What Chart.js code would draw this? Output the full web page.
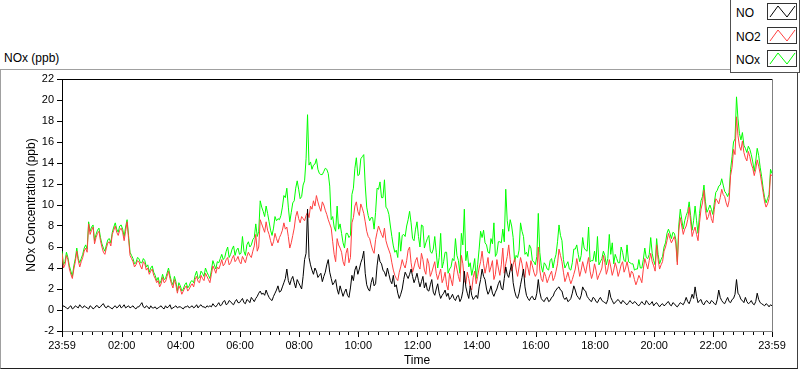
<!DOCTYPE html>
<html>
<head>
<meta charset="utf-8">
<script src="https://cdn.jsdelivr.net/npm/chart.js@4.4.1/dist/chart.umd.min.js"></script>
<style>
  body { margin: 0; background: #fff; font-family: "Liberation Sans", Arial, sans-serif; }
  #wrap { position: relative; width: 800px; height: 369px; overflow: hidden; }
  #panel { position: absolute; left: 0; top: 69px; width: 796px; height: 298px;
           border-top: 1px solid #a0a0a0; border-left: 1px solid #a0a0a0;
           border-right: 1px solid #404040; border-bottom: 1px solid #202020; }
  #c { position: absolute; left: 0; top: 0; }
  #caption { position: absolute; left: 4px; top: 51px; font-size: 12px; color: #000; }
  #legend { position: absolute; left: 730px; top: 0; width: 68px; height: 72px; background: #fff;
            border-left: 1px solid #505050; border-bottom: 1px solid #505050; border-right: 1px solid #505050; }
  .lg-text { position: absolute; left: 5px; font-size: 12px; color: #000; line-height: 14px; }
  .lg-box { position: absolute; left: 36px; width: 28px; height: 15px; border: 1px solid #333; background: #fff; }
  .lg-box svg { display: block; }
</style>
</head>
<body>
<div id="wrap">
  <div id="panel"></div>
  <div id="caption">NOx (ppb)</div>
  <canvas id="c" width="800" height="369"></canvas>
  <div id="legend"></div>
</div>
<script>
// minutes after 23:59, one reading every 3 minutes (20 per hour)
const stepMin = 3;

// NO (ppb), one row per hour
const noVals = [
  0.2,0.4,0.3,0.2,0.1,0.3,0.4,0.1,0.2,0.4,0.3,0.2,0.5,0.3,0.2,0.4,0.3,0.2,0.1,0.4,
  0.3,0.1,0.2,0.4,0.4,0.2,0.3,0.5,0.6,0.3,0.2,0.4,0.3,0.2,0.1,0.3,0.4,0.2,0.3,0.5,
  0.2,0.3,0.5,0.2,0.3,0.4,0.2,0.3,0.4,0.2,0.1,0.3,0.3,0.5,0.7,0.3,0.2,0.4,0.3,0.1,
  0.4,0.2,0.2,0.3,0.1,0.2,0.3,0.4,0.2,0.1,0.4,0.2,0.3,0.5,0.1,0.2,0.3,0.4,0.2,0.3,
  0.3,0.2,0.1,0.3,0.3,0.4,0.2,0.3,0.4,0.2,0.3,0.5,0.2,0.4,0.5,0.3,0.3,0.2,0.4,0.3,
  0.4,0.3,0.6,0.4,0.3,0.5,0.7,0.4,0.5,0.8,0.9,0.5,0.6,0.9,0.8,0.6,0.5,0.8,1.0,0.7,
  0.7,0.9,1.1,0.7,0.6,1.0,0.9,0.7,1.2,1.0,0.8,1.1,1.3,1.6,1.8,1.5,1.6,1.4,1.9,1.5,
  1.2,1.0,0.9,1.3,1.6,1.9,2.3,1.7,1.8,2.2,2.6,3.0,3.9,2.8,2.4,2.9,3.2,2.6,2.1,2.9,
  2.6,2.3,2.0,3.2,4.8,5.4,9.6,5.0,4.3,3.8,3.4,4.0,3.7,3.1,3.3,3.5,2.7,3.2,3.6,4.3,
  4.8,3.6,3.0,2.4,2.6,2.9,2.0,1.5,2.3,1.8,1.3,1.7,2.0,1.4,1.2,2.1,3.3,2.8,3.8,4.2,
  3.4,3.9,4.5,4.9,5.6,3.5,2.4,2.0,1.8,2.6,3.1,2.3,2.5,4.2,5.3,4.6,4.4,3.8,3.6,3.2,
  4.0,3.4,2.8,2.5,3.3,2.2,2.4,1.6,1.1,1.5,2.0,2.9,3.6,3.3,3.0,3.4,3.9,3.2,2.6,3.0,
  3.5,2.8,2.2,2.7,3.2,2.1,2.6,1.9,1.8,2.4,2.9,1.7,1.4,2.0,2.5,1.6,1.1,1.4,1.6,1.9,
  1.3,1.6,1.0,1.2,1.5,1.1,0.9,1.3,1.4,0.8,1.1,1.8,3.7,2.2,1.6,1.1,2.3,1.4,1.0,1.2,
  1.4,1.1,2.2,2.9,3.9,3.2,2.9,2.0,1.5,1.8,2.3,1.6,1.3,1.7,2.0,2.5,2.8,2.1,1.9,3.0,
  4.1,3.4,3.1,3.8,4.4,2.6,1.8,1.3,1.1,1.6,2.4,3.1,3.9,2.2,1.4,1.1,0.9,1.2,1.3,1.0,
  1.0,1.6,2.9,1.7,1.1,0.9,0.8,1.1,1.2,0.8,0.9,1.2,1.3,1.7,1.9,2.1,2.2,1.9,1.8,1.2,
  1.0,1.2,0.8,0.9,1.1,1.6,2.3,1.9,1.4,1.2,1.0,1.4,2.2,1.9,1.8,1.3,1.1,0.9,0.8,1.2,
  1.1,0.8,0.7,1.0,1.2,0.9,0.8,0.7,0.6,1.0,1.9,1.2,0.9,0.6,0.7,0.9,1.0,0.8,0.6,0.9,
  0.8,0.6,0.5,0.7,0.9,0.7,0.6,0.8,0.7,0.5,0.4,0.6,0.8,0.6,0.5,0.9,0.7,0.5,0.6,0.8,
  0.4,0.6,0.7,0.5,0.3,0.5,0.6,0.4,0.5,0.7,0.8,0.5,0.4,0.7,0.6,0.4,0.3,0.5,0.7,0.6,
  0.5,0.8,1.2,0.8,0.6,1.0,1.5,1.1,2.2,1.3,0.7,0.9,1.0,0.6,0.5,0.8,0.9,0.7,0.6,0.9,
  0.8,0.6,0.5,1.0,1.9,1.2,0.9,0.7,0.6,0.9,1.2,0.8,0.7,1.0,1.1,1.5,2.9,1.6,1.4,1.0,
  0.9,0.7,1.2,0.8,0.6,0.7,0.9,0.6,0.5,0.8,1.6,1.0,0.7,0.6,0.5,0.4,0.6,0.5,0.3,0.5,
  0.4
];

// NO2 (ppb)
const no2Vals = [
  5.4,4.0,4.3,5.2,4.8,3.9,3.4,3.0,3.9,4.6,5.6,4.7,4.1,4.6,5.0,5.6,5.9,5.5,8.2,7.2,
  7.6,7.9,6.3,6.9,7.3,7.5,6.6,6.0,5.5,5.3,5.9,6.4,6.5,6.1,7.2,7.6,8.0,7.4,7.1,7.6,
  7.8,7.4,6.6,7.5,8.4,6.8,5.2,4.9,4.6,4.1,4.3,4.7,4.6,4.2,3.9,4.6,4.4,3.8,4.0,3.4,
  3.7,3.9,3.3,3.0,2.6,2.8,2.2,2.5,3.1,2.6,2.7,3.2,3.7,3.0,2.5,2.1,2.9,2.4,1.6,2.3,
  2.0,1.5,1.8,2.1,2.3,1.8,2.0,2.3,2.5,2.2,2.9,3.2,2.7,2.6,3.3,3.0,2.8,3.5,3.2,2.9,
  2.6,3.4,4.2,3.9,3.5,4.1,3.9,4.3,4.8,4.2,4.4,4.8,5.0,4.3,4.5,4.9,5.2,4.6,4.8,5.1,
  4.6,4.4,5.1,4.8,4.5,5.1,5.5,5.2,5.0,5.6,6.1,7.2,5.6,6.0,8.6,8.2,7.8,7.4,8.4,7.6,
  7.2,6.6,6.1,6.5,7.3,6.8,6.4,6.9,7.2,7.6,8.3,7.7,7.9,7.0,5.9,6.4,7.1,7.8,8.9,9.4,
  8.7,8.3,8.9,8.7,8.5,9.0,9.3,8.8,9.9,9.6,10.4,9.9,10.9,10.3,9.8,9.4,10.3,10.0,9.5,9.1,
  8.6,8.2,7.8,6.5,5.3,4.6,6.8,6.2,5.9,5.5,4.6,4.2,5.4,5.9,4.5,5.0,8.3,8.8,9.9,10.3,
  9.4,9.0,10.1,9.7,9.2,8.4,7.5,7.0,6.8,6.2,5.7,5.4,6.7,7.4,8.0,7.6,7.2,6.9,7.8,6.6,
  6.1,5.7,5.3,4.5,3.8,3.3,3.0,2.8,3.6,4.1,4.8,4.3,4.0,4.7,5.7,6.0,4.5,3.6,4.1,4.7,
  5.0,4.2,3.9,5.4,4.8,3.8,3.4,4.9,4.4,3.2,3.6,4.1,4.6,3.5,2.9,3.4,3.9,2.6,3.0,3.6,
  2.4,1.9,3.5,2.9,2.3,3.6,4.6,3.9,3.2,2.7,5.2,4.4,2.8,2.5,3.6,3.0,2.2,1.9,3.1,3.7,
  2.5,3.2,4.0,4.6,5.6,4.4,3.5,4.2,5.0,3.6,4.1,4.7,2.9,3.4,4.8,4.0,3.3,4.3,5.9,3.5,
  4.4,5.1,6.2,4.8,3.7,4.3,4.9,3.9,3.2,4.1,5.0,4.4,3.5,3.1,4.6,4.0,3.3,4.7,4.2,3.6,
  3.2,3.5,6.0,3.8,3.0,2.7,3.6,3.2,2.6,3.0,3.4,3.7,2.8,3.1,3.7,4.4,5.8,5.2,4.6,3.6,
  2.7,3.1,3.6,3.0,2.5,2.9,3.4,3.9,4.9,4.1,3.2,3.8,4.6,4.0,3.5,4.3,5.0,3.7,3.0,3.5,
  4.4,3.8,2.9,3.3,3.6,4.0,5.2,4.5,3.4,3.9,4.8,4.1,3.3,3.8,4.5,4.0,3.2,3.7,4.3,4.6,
  3.6,4.0,4.6,3.9,3.1,3.7,3.5,2.9,2.4,2.8,3.3,3.0,2.6,3.9,4.9,4.4,3.9,4.7,5.4,4.6,
  4.2,3.7,6.2,4.8,3.9,4.3,4.6,5.6,6.0,6.6,7.3,6.8,6.4,6.7,7.0,6.3,4.3,7.6,8.8,8.0,
  7.2,7.7,8.0,8.6,9.8,8.4,7.0,7.5,7.9,7.2,6.6,8.3,9.6,10.2,11.4,9.5,8.6,8.9,9.5,8.7,
  8.3,9.6,10.6,10.4,10.1,10.7,11.5,11.0,10.8,10.2,9.8,10.4,12.8,13.6,15.3,14.8,18.4,16.6,15.6,15.2,
  16.1,15.0,14.5,14.2,15.1,14.6,13.9,13.5,12.8,13.4,14.3,13.7,13.0,12.1,11.2,10.3,9.8,10.1,10.6,12.9,
  12.8
];

// NOx (ppb)
const noxVals = [
  5.6,4.3,4.6,5.5,5.0,4.2,3.7,3.2,4.2,4.9,5.9,4.9,4.5,4.9,5.3,5.9,6.2,5.8,8.4,7.5,
  7.9,8.1,6.6,7.2,7.6,7.8,6.9,6.3,5.9,5.6,6.2,6.7,6.8,6.4,7.4,7.9,8.3,7.7,7.4,8.0,
  8.1,7.7,7.0,7.9,8.6,7.1,5.5,5.2,4.9,4.4,4.5,5.0,4.9,4.5,4.5,4.9,4.7,4.1,4.3,3.6,
  4.0,4.2,3.6,3.3,2.8,3.1,2.5,2.8,3.4,2.9,3.0,3.5,4.0,3.3,2.7,2.4,3.2,2.7,1.8,2.6,
  2.3,1.8,2.0,2.4,2.6,2.1,2.3,2.7,2.8,2.6,3.3,3.7,3.0,3.1,3.7,3.5,3.2,4.0,3.6,3.3,
  3.0,3.8,4.7,4.3,3.9,4.6,4.5,4.9,5.3,4.8,5.0,5.6,6.0,5.0,5.3,5.8,6.1,5.2,5.7,5.9,
  5.3,5.4,7.0,5.6,5.2,6.2,6.5,6.0,6.2,6.7,6.9,8.2,7.0,7.5,10.4,9.8,9.4,8.9,9.9,9.2,
  8.4,7.6,7.1,7.8,8.9,8.5,8.7,8.6,9.0,9.8,10.9,10.7,11.6,9.8,8.4,9.3,10.2,10.4,11.6,12.3,
  11.5,10.6,10.8,11.9,12.3,14.4,18.6,13.8,14.1,13.4,13.8,13.9,14.4,13.4,13.0,12.9,12.9,13.2,13.5,13.4,
  13.0,11.8,8.6,8.9,7.9,7.5,9.9,7.7,8.2,7.3,6.4,5.9,7.3,7.3,6.9,7.1,11.0,11.6,13.5,14.5,
  12.8,12.9,14.4,14.6,14.8,11.9,9.8,9.0,8.5,8.8,8.8,7.7,9.3,11.6,11.5,12.2,10.7,10.7,12.4,9.8,
  9.6,9.1,8.0,7.0,6.1,5.5,5.7,5.0,7.4,5.6,7.1,7.2,7.0,8.0,8.6,9.4,8.3,6.8,6.6,7.7,
  8.4,7.0,6.0,8.1,8.0,5.9,6.4,6.8,7.1,5.6,5.4,5.8,7.0,5.5,4.0,5.0,7.3,4.0,4.6,5.5,
  5.5,3.5,3.9,4.1,4.9,4.7,6.8,5.2,4.7,3.5,7.3,6.2,9.6,4.7,5.6,4.1,4.5,3.3,4.0,4.9,
  3.0,4.3,5.8,7.5,6.9,7.6,6.4,6.2,5.5,5.4,6.8,6.3,8.3,5.1,5.4,6.5,6.5,6.4,7.7,6.5,
  11.5,8.5,7.5,8.6,8.0,6.9,4.6,5.2,5.0,5.7,8.3,7.5,7.0,5.3,5.5,5.1,6.2,5.9,4.7,4.6,
  4.3,5.1,9.2,5.5,4.2,3.6,4.5,4.3,3.9,3.8,4.7,4.9,4.0,4.8,5.3,6.5,8.1,7.1,6.6,4.8,
  4.0,4.3,4.6,3.9,3.8,4.5,5.8,5.8,6.2,5.3,4.6,5.2,6.9,5.9,5.7,5.6,7.9,4.6,4.7,4.7,
  5.6,4.6,7.0,4.3,4.6,4.9,5.6,5.2,4.3,4.9,7.2,5.3,6.4,4.4,5.3,4.9,4.5,4.5,6.0,5.5,
  4.7,4.6,6.2,4.6,4.5,4.4,4.4,3.8,3.9,3.9,4.8,4.0,4.0,4.8,5.9,5.0,4.9,5.3,6.9,5.4,
  4.7,4.3,6.8,5.3,4.4,4.8,5.1,6.0,6.4,7.3,7.7,7.3,6.8,7.4,7.3,6.7,4.6,8.1,9.6,8.6,
  7.7,8.5,9.0,9.4,10.3,9.0,7.6,8.5,9.9,8.5,7.3,9.2,10.4,10.8,11.9,10.3,9.3,9.6,10.0,9.6,
  9.1,10.2,11.2,11.4,11.8,11.9,12.5,11.9,11.3,11.1,10.8,11.2,13.4,14.6,16.0,16.3,20.3,18.2,16.8,16.2,
  16.9,15.7,15.4,15.0,15.6,15.3,14.8,14.1,13.2,14.2,15.4,14.7,13.6,12.7,11.6,10.7,10.2,10.6,11.0,13.4,
  13.0
];

// labelled time ticks (minutes after 23:59) and their text
const majorMinutes = [0, 121, 241, 361, 481, 601, 721, 841, 961, 1081, 1201, 1321, 1440];
const majorLabels = ['23:59', '02:00', '04:00', '06:00', '08:00', '10:00', '12:00',
                     '14:00', '16:00', '18:00', '20:00', '22:00', '23:59'];

const seriesNames = ['NO', 'NO2', 'NOx'];
const seriesColors = ['#000000', '#ff4040', '#00ff00'];

const fontFamily = '"Liberation Sans", Arial, sans-serif';

// unlabelled ticks every 20 minutes from 00:20
const tickValues = [0];
for (let m = 21; m < 1440; m += 20) tickValues.push(m);
tickValues.push(1440);

function toPoints(vals) {
  return vals.map((v, i) => ({ x: i * stepMin, y: v }));
}

// legend like the LabVIEW plot legend
const legend = document.getElementById('legend');
const rowTops = [3, 27, 50];
seriesNames.forEach((name, i) => {
  const t = document.createElement('div');
  t.className = 'lg-text';
  t.style.top = (rowTops[i] + 3) + 'px';
  t.textContent = name;
  legend.appendChild(t);
  const b = document.createElement('div');
  b.className = 'lg-box';
  b.style.top = rowTops[i] + 'px';
  b.innerHTML = '<svg width="28" height="15"><polyline points="2,13 10,2 19,13 27,2" fill="none" stroke="' +
    seriesColors[i] + '" stroke-width="1"/></svg>';
  legend.appendChild(b);
});

// top/right frame of the plot area and the two tick lengths on the time axis
const framePlugin = {
  id: 'frame',
  afterDraw(chart) {
    const { ctx, chartArea: a } = chart;
    const x = chart.scales.x;
    ctx.save();
    ctx.lineWidth = 1;
    ctx.strokeStyle = '#000';
    ctx.beginPath();
    ctx.moveTo(a.left, a.top + 0.5);
    ctx.lineTo(a.right, a.top + 0.5);
    ctx.stroke();
    ctx.strokeStyle = '#808080';
    ctx.beginPath();
    ctx.moveTo(a.right + 0.5, a.top);
    ctx.lineTo(a.right + 0.5, a.bottom);
    ctx.stroke();
    ctx.strokeStyle = '#000';
    x.ticks.forEach(t => {
      const px = Math.round(x.getPixelForValue(t.value)) + 0.5;
      const len = majorMinutes.includes(t.value) ? 5 : 3;
      ctx.beginPath();
      ctx.moveTo(px, a.bottom + 1);
      ctx.lineTo(px, a.bottom + 1 + len);
      ctx.stroke();
    });
    ctx.restore();
  }
};

new Chart(document.getElementById('c'), {
  type: 'line',
  data: {
    datasets: [noVals, no2Vals, noxVals].map((vals, i) => ({
      label: seriesNames[i],
      data: toPoints(vals),
      borderColor: seriesColors[i],
      backgroundColor: seriesColors[i],
      borderWidth: 1,
      pointRadius: 0,
      tension: 0,
      fill: false
    }))
  },
  options: {
    responsive: false,
    animation: false,
    devicePixelRatio: 1,
    layout: { padding: { top: 79, right: 28, left: 0, bottom: 0 } },
    plugins: { legend: { display: false }, tooltip: { enabled: false } },
    scales: {
      x: {
        type: 'linear',
        min: 0,
        max: 1440,
        afterFit: s => { s.height = 38; },
        afterBuildTicks: s => { s.ticks = tickValues.map(v => ({ value: v })); },
        ticks: {
          autoSkip: false,
          maxRotation: 0,
          padding: 3,
          color: '#000',
          font: { family: fontFamily, size: 11 },
          callback: v => {
            const i = majorMinutes.indexOf(v);
            return i >= 0 ? majorLabels[i] : '';
          }
        },
        grid: { drawOnChartArea: false, tickLength: 5, tickColor: 'rgba(0,0,0,0)' },
        border: { color: '#808080' },
        title: { display: true, text: 'Time', color: '#000',
                 font: { family: fontFamily, size: 12 }, padding: { top: 0, bottom: 1 } }
      },
      y: {
        min: -2,
        max: 22,
        afterFit: s => { s.width = 62; },
        ticks: { stepSize: 2, padding: 3, color: '#000', font: { family: fontFamily, size: 11 } },
        grid: { drawOnChartArea: false, tickLength: 5, tickColor: '#000' },
        border: { color: '#000' },
        title: { display: true, text: 'NOx Concentration (ppb)', color: '#000',
                 font: { family: fontFamily, size: 12 }, padding: { top: 24, bottom: 0 } }
      }
    }
  },
  plugins: [framePlugin]
});
</script>
</body>
</html>
